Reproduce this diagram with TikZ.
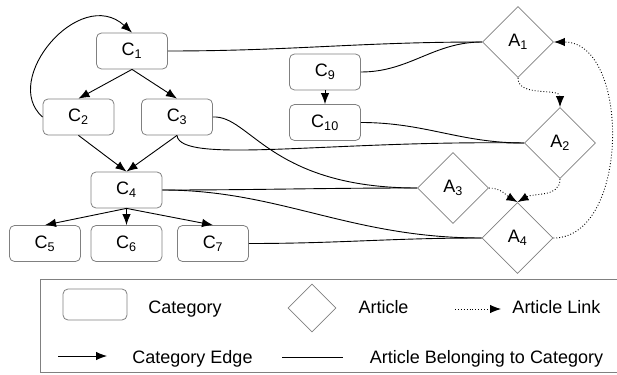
\documentclass[tikz,border=0pt]{standalone}
\usepackage{fontspec}
\setmainfont{Liberation Sans}
\usetikzlibrary{shapes.geometric,arrows.meta}

\begin{document}
\begin{tikzpicture}
[x=1pt,y=-1pt,
  catdecorate/.style={shape=rectangle,rounded corners=5pt,draw=gray,line width=0.8pt,
    minimum width=71pt,minimum height=36pt,inner sep=0pt,font=\fontsize{18}{21}\selectfont},
  artdecorate/.style={shape=diamond,draw=gray,line width=0.8pt,
    minimum width=71pt,minimum height=71pt,inner sep=0pt,font=\fontsize{18}{21}\selectfont},
  edgedecorate/.style={-{Latex[length=11pt,width=8.5pt]},line width=0.9pt},
  belongdecorate/.style={-,line width=0.9pt},
  linkdecorate/.style={-{Latex[length=11pt,width=8.5pt]},dotted,line width=0.9pt},
  keytext/.style={anchor=base,inner sep=0pt,font=\fontsize{18}{21}\selectfont}]
\useasboundingbox (0,0) rectangle (617,374);
%% category nodes
\foreach \nodename/\x/\y in {
  1/132/51, 2/78.5/117, 3/177/117, 4/126.5/190,
  5/45/243.5, 6/126.5/243.5, 7/213/243.5,
  9/325/72, 10/325/122.5}
{
  \node (C\nodename) at (\x,\y) [catdecorate] {C\textsubscript{\nodename}};
}
%% article nodes
\foreach \nodename/\x/\y in {1/518/42, 2/560/143, 3/453/188, 4/517.5/238}
{
  \node (A\nodename) at (\x,\y) [artdecorate] {A\textsubscript{\nodename}};
}
%% category edges
\path
\foreach \startnode/\endnode in {C1/C2, C1/C3, C2/C4, C3/C4, C4/C5, C4/C6,
  C4/C7, C9/C10}
{
  (\startnode.south) edge[edgedecorate] (\endnode.north)
};
\draw[edgedecorate] (C2.west) .. controls (0,80) and (80,-15) .. (C1.north);
%% article belonging to category
\path
\foreach \startnode/\endnode in {C1/A1, C9/A1, C10/A2, C4/A3, C7/A4}
{
  (\startnode.east) edge[belongdecorate,out=0,in=180] (\endnode.west)
};
\draw[belongdecorate] (C3.south) .. controls (180,165) and (330,140) .. (A2.west);
\draw[belongdecorate] (C3.east) .. controls (250,115) and (270,188) .. (A3.west);
\draw[belongdecorate] (C4.east) .. controls (280,190) and (350,238) .. (A4.west);
%% article links
\draw[linkdecorate] (A1.south) to[out=-90,in=90] (A2.north);
\draw[linkdecorate] (A2.south) to[out=-90,in=30] (A4.north);
\draw[linkdecorate] (A3.east) to[out=0,in=150] (A4.north);
\draw[linkdecorate] (A4.east) to[out=0,in=0] (A1.east);
%% legend
\draw[draw=gray,line width=0.8pt] (620,279) -- (40,279) -- (40,372) -- (620,372);
\node (keycat) at (95,304.5) [catdecorate,minimum width=64pt,minimum height=31pt] {};
\node (keycattext) at (185,313) [keytext] {Category};
\node (keyart) at (312,308) [artdecorate,minimum width=48pt,minimum height=48pt] {};
\node (keyarttext) at (383.5,313) [keytext] {Article};
\coordinate (keylinkstart) at (455,309);
\coordinate (keylinkend) at (501,309);
\draw[linkdecorate] (keylinkstart) -- (keylinkend);
\node (keylinktext) at (556.5,313) [keytext] {Article Link};
\coordinate (keyedgestart) at (58,356);
\coordinate (keyedgeend) at (107,356);
\draw[edgedecorate] (keyedgestart) -- (keyedgeend);
\node (keyedgetext) at (192.5,363) [keytext] {Category Edge};
\coordinate (keybelongstart) at (282,357);
\coordinate (keybelongend) at (343,357);
\draw[belongdecorate] (keybelongstart) -- (keybelongend);
\node (keybelongtext) at (486.5,363) [keytext] {Article Belonging to Category};
\end{tikzpicture}
\end{document}
